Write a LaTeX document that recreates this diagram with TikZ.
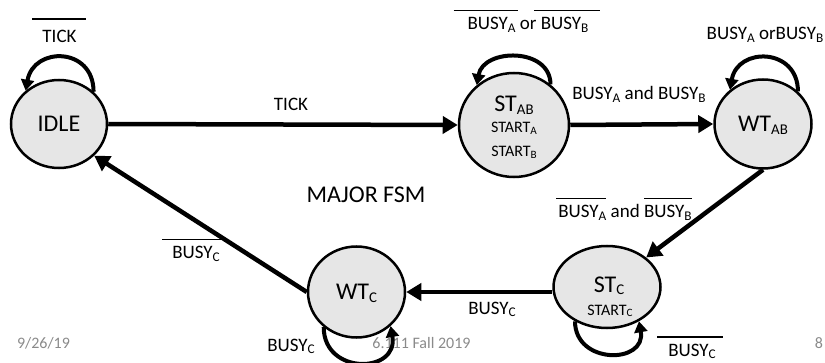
\documentclass[tikz,border=0pt]{standalone}
\usepackage{fontspec}
\setmainfont{Carlito}
\usepackage{graphicx}
\usetikzlibrary{arrows.meta,calc,shapes.geometric}

% subscript: lowered and shrunk
\newcommand{\lo}[2][0.7]{\raisebox{-0.12em}{\scalebox{#1}{#2}}}
% negation bar: [raise]{extra left}{extra right}{text}
\newsavebox\barbox
\newcommand{\ovl}[4][18.5pt]{\sbox\barbox{#4}\rlap{\kern-#2pt\raisebox{#1}{\rule{\dimexpr\wd\barbox+#2pt+#3pt\relax}{1.8pt}}}\usebox\barbox}

\definecolor{statefill}{HTML}{E6E6E6}
\definecolor{footgray}{HTML}{8A8A8A}

\tikzset{
  state/.style={ellipse, draw, line width=2.5pt, fill=statefill, inner sep=0pt,
    text depth=0pt, font=\fontsize{24}{26}\selectfont},
  edge/.style={line width=4.5pt, -{Triangle[length=15pt,width=17pt]}},
  selfloop/.style={line width=4pt, -{Triangle[length=11pt,width=13pt]}},
  lbl/.style={anchor=base, inner sep=0pt, font=\fontsize{19}{22}\selectfont},
  namefont/.style={font=\fontsize{24}{26}\selectfont},
  outfont/.style={font=\fontsize{16}{18}\selectfont},
  foot/.style={anchor=base, inner sep=0pt, text=footgray, font=\fontsize{16}{18}\selectfont},
}

\begin{document}
\begin{tikzpicture}[x=1pt,y=1pt]
\useasboundingbox (0,0) rectangle (825,362);
\clip (0,0) rectangle (825,362);

% footer
\node[foot] (date) at (43.5,14) {9/26/19};
\node[foot] (course) at (421.5,14) {6.111 Fall 2019};
\node[foot] (page) at (819,14) {8};

% states
\node[state, minimum width=96pt, minimum height=88pt] (idle) at (59,238) {IDLE};
\node[state, minimum width=110pt, minimum height=104pt] (stab) at (514,237) {};
\node[state, minimum width=97pt, minimum height=89pt] (wtab) at (763,238) {WT\lo[0.62]{AB}};
\node[state, minimum width=107pt, minimum height=82pt] (stc) at (607,75) {};
\node[state, minimum width=97pt, minimum height=91pt] (wtc) at (356.5,70) {WT\lo[0.62]{C}};

% state contents with outputs
\node[lbl, namefont] (stabname) at (514,250) {ST\lo[0.62]{AB}};
\node[lbl, outfont] (stabouta) at (514,229) {START\lo{A}};
\node[lbl, outfont] (staboutb) at (514,205) {START\lo{B}};
\node[lbl, namefont] (stcname) at (609,70) {ST\lo[0.62]{C}};
\node[lbl, outfont] (stcout) at (610,47) {START\lo{C}};

% transitions
\draw[edge] (idle.east) -- (stab.west);
\draw[edge] (stab.east) -- (wtab.west);
\draw[edge] (wtab.270) -- (stc.37);
\draw[edge] (stc.west |- wtc.east) -- (wtc.east);
\draw[edge] (wtc.west) -- (idle.318);

% self loops
\draw[selfloop] (idle.43) to[out=90, in=80, looseness=1.7] (idle.135);
\draw[selfloop] (stab.48) to[out=90, in=80, looseness=1.3] (stab.133);
\draw[selfloop] (wtab.43) to[out=90, in=80, looseness=1.65] (wtab.134);
\draw[selfloop] (stc.227) to[out=270, in=280, looseness=1.75] (stc.313);
\draw[selfloop] (wtc.227) to[out=270, in=280, looseness=1.85] (wtc.315);

% transition conditions
\node[lbl] (tickloop) at (59.5,319) {\ovl[23pt]{10}{9}{TICK}};
\node[lbl] (tick) at (291,251) {TICK};
\node[lbl] (abloop) at (528,332) {\ovl{14}{2}{BUSY\lo{A}} or \ovl{7}{12}{BUSY\lo{B}}};
\node[lbl] (both) at (639,262) {BUSY\lo{A} and BUSY\lo{B}};
\node[lbl] (wtabloop) at (765,322) {BUSY\lo{A} orBUSY\lo{B}};
\node[lbl] (bothfree) at (625,144) {\ovl{2}{0}{BUSY\lo{A}} and \ovl{0}{0}{BUSY\lo{B}}};
\node[lbl] (busyc) at (492,48) {BUSY\lo{C}};
\node[lbl] (wtcloop) at (291,11) {BUSY\lo{C}};
\node[lbl] (stcloop) at (692,6) {\ovl{11}{7}{BUSY\lo{C}}};
\node[lbl] (freec) at (196,103) {\ovl{10}{3}{BUSY\lo{C}}};
\node[lbl, namefont] (title) at (366,159) {MAJOR FSM};
\end{tikzpicture}
\end{document}
